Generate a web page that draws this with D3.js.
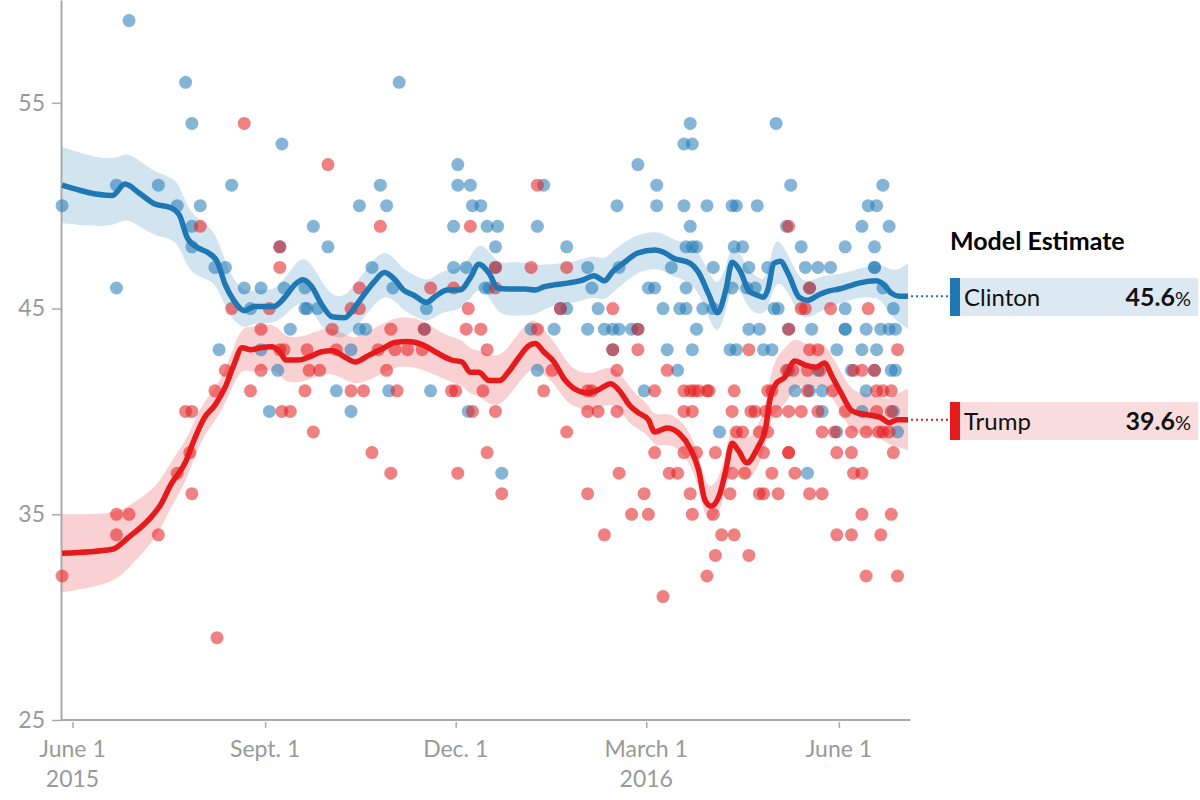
<!DOCTYPE html>
<html>
<head>
<meta charset="utf-8">
<script src="https://cdn.jsdelivr.net/npm/d3@7"></script>
<style>
  html, body { margin: 0; padding: 0; background: #fff; }
  svg { display: block; font-family: Lato, "Open Sans", sans-serif; }
</style>
</head>
<body>
<svg id="chart" width="1200" height="800"></svg>
<script>
// ---------------- DATA ----------------
const candidates = ["Clinton", "Trump"];
const yTickValues = [25, 35, 45, 55];
const xTickDates = ["2015-06-01", "2015-09-01", "2015-12-01", "2016-03-01", "2016-06-01"];
const xTickLabels = ["June 1", "Sept. 1", "Dec. 1", "March 1", "June 1"];
const yearLabels = [["2015-06-01", "2015"], ["2016-03-01", "2016"]];
const legendTitle = "Model Estimate";

// individual polls: [date, percent]
const clintonPolls = [
["2015-05-27",50],
["2015-06-22",46],["2015-06-22",51],["2015-06-28",59],
["2015-07-12",51],["2015-07-21",50],["2015-07-25",56],["2015-07-28",54],["2015-07-28",49],["2015-07-28",48],
["2015-08-01",50],["2015-08-08",47],["2015-08-10",43],["2015-08-13",47],["2015-08-16",51],["2015-08-22",46],["2015-08-25",45],["2015-08-30",46],["2015-08-30",43],
["2015-09-03",40],["2015-09-07",42],["2015-09-08",48],["2015-09-09",53],["2015-09-10",46],["2015-09-13",44],["2015-09-20",46],["2015-09-20",45],["2015-09-21",45],["2015-09-24",49],["2015-09-26",45],
["2015-10-01",48],["2015-10-05",41],["2015-10-12",43],["2015-10-12",40],["2015-10-16",44],["2015-10-16",50],["2015-10-19",44],["2015-10-22",47],["2015-10-26",51],["2015-10-29",50],["2015-10-30",41],
["2015-11-01",46],["2015-11-04",56],["2015-11-16",44],["2015-11-17",45],["2015-11-19",41],["2015-11-30",47],["2015-11-30",49],
["2015-12-02",52],["2015-12-02",51],["2015-12-06",47],["2015-12-07",40],["2015-12-08",51],["2015-12-09",50],["2015-12-13",50],["2015-12-15",46],["2015-12-16",49],["2015-12-17",46],["2015-12-20",48],["2015-12-20",47],["2015-12-21",49],["2015-12-23",37],
["2016-01-06",44],["2016-01-09",49],["2016-01-09",42],["2016-01-12",51],["2016-01-17",44],["2016-01-20",45],["2016-01-23",48],["2016-01-23",45],
["2016-02-02",47],["2016-02-02",44],["2016-02-04",46],["2016-02-07",45],["2016-02-10",44],["2016-02-14",44],["2016-02-14",43],["2016-02-16",50],["2016-02-17",47],["2016-02-17",44],["2016-02-23",44],["2016-02-26",52],["2016-02-26",44],["2016-02-29",41],
["2016-03-02",46],["2016-03-05",46],["2016-03-06",51],["2016-03-06",50],["2016-03-09",45],["2016-03-11",43],["2016-03-13",47],["2016-03-16",42],["2016-03-17",45],["2016-03-19",53],["2016-03-19",50],["2016-03-20",45],["2016-03-20",48],["2016-03-20",46],["2016-03-22",54],["2016-03-22",49],["2016-03-23",43],["2016-03-23",53],["2016-03-23",48],["2016-03-25",48],["2016-03-25",44],["2016-03-28",45],["2016-03-30",50],
["2016-04-02",47],["2016-04-02",45],["2016-04-05",39],["2016-04-10",43],["2016-04-11",50],["2016-04-11",46],["2016-04-12",48],["2016-04-13",43],["2016-04-13",50],["2016-04-16",48],["2016-04-18",46],["2016-04-19",44],["2016-04-19",47],["2016-04-22",46],["2016-04-23",50],["2016-04-24",44],["2016-04-26",43],["2016-04-28",47],["2016-04-30",43],
["2016-05-01",45],["2016-05-02",54],["2016-05-03",45],["2016-05-07",49],["2016-05-08",44],["2016-05-08",42],["2016-05-09",51],["2016-05-11",41],["2016-05-14",48],["2016-05-16",47],["2016-05-17",37],["2016-05-18",46],["2016-05-18",41],["2016-05-19",44],["2016-05-22",47],["2016-05-22",42],["2016-05-24",40],["2016-05-24",41],["2016-05-28",47],["2016-05-31",43],["2016-05-31",39],
["2016-06-04",48],["2016-06-04",45],["2016-06-04",44],["2016-06-04",44],["2016-06-07",42],["2016-06-12",49],["2016-06-12",43],["2016-06-12",40],["2016-06-14",44],["2016-06-14",41],["2016-06-15",50],["2016-06-18",48],["2016-06-18",47],["2016-06-18",47],["2016-06-18",42],["2016-06-19",50],["2016-06-19",43],["2016-06-21",44],["2016-06-22",51],["2016-06-22",46],["2016-06-25",49],["2016-06-25",44],["2016-06-26",42],["2016-06-27",45],["2016-06-27",40],["2016-06-28",44],["2016-06-28",42],["2016-06-29",39]
];

const trumpPolls = [
["2015-05-27",32],
["2015-06-22",35],["2015-06-22",34],["2015-06-28",35],
["2015-07-12",34],["2015-07-21",37],["2015-07-25",40],["2015-07-27",38],["2015-07-28",40],["2015-07-28",36],
["2015-08-01",49],["2015-08-08",41],["2015-08-09",29],["2015-08-13",42],["2015-08-16",45],["2015-08-22",54],["2015-08-25",41],["2015-08-30",44],["2015-08-30",42],
["2015-09-03",45],["2015-09-08",48],["2015-09-08",47],["2015-09-08",43],["2015-09-09",40],["2015-09-10",43],["2015-09-13",40],["2015-09-20",41],["2015-09-21",43],["2015-09-22",42],["2015-09-24",39],["2015-09-27",42],
["2015-10-01",52],["2015-10-03",44],["2015-10-05",43],["2015-10-12",45],["2015-10-12",41],["2015-10-16",46],["2015-10-16",45],["2015-10-18",41],["2015-10-22",38],["2015-10-25",43],["2015-10-26",49],["2015-10-29",42],["2015-10-31",37],["2015-10-31",44],
["2015-11-02",43],["2015-11-03",41],["2015-11-08",43],["2015-11-15",43],["2015-11-16",44],["2015-11-19",46],["2015-11-29",41],["2015-11-30",46],
["2015-12-01",41],["2015-12-02",37],["2015-12-06",44],["2015-12-07",45],["2015-12-08",49],["2015-12-09",40],["2015-12-13",44],["2015-12-14",41],["2015-12-16",43],["2015-12-16",38],["2015-12-20",47],["2015-12-20",46],["2015-12-20",40],["2015-12-23",36],
["2016-01-06",47],["2016-01-09",51],["2016-01-09",44],["2016-01-12",41],["2016-01-16",42],["2016-01-20",45],["2016-01-23",47],["2016-01-23",39],
["2016-02-02",41],["2016-02-02",40],["2016-02-02",36],["2016-02-04",41],["2016-02-07",40],["2016-02-10",34],["2016-02-14",45],["2016-02-14",43],["2016-02-16",40],["2016-02-16",42],["2016-02-17",37],["2016-02-23",35],["2016-02-26",44],["2016-02-26",43],["2016-02-29",36],
["2016-03-02",35],["2016-03-05",41],["2016-03-05",38],["2016-03-09",31],["2016-03-11",42],["2016-03-12",37],["2016-03-16",37],["2016-03-19",41],["2016-03-19",40],["2016-03-19",38],["2016-03-22",41],["2016-03-22",36],["2016-03-23",35],["2016-03-23",40],["2016-03-24",41],["2016-03-25",38],["2016-03-26",41],["2016-03-30",41],["2016-03-30",32],["2016-03-31",41],
["2016-04-02",35],["2016-04-03",38],["2016-04-03",33],["2016-04-06",34],["2016-04-10",36],["2016-04-11",37],["2016-04-11",40],["2016-04-12",34],["2016-04-12",41],["2016-04-13",39],["2016-04-16",39],["2016-04-17",37],["2016-04-19",43],["2016-04-19",33],["2016-04-20",40],["2016-04-22",40],["2016-04-24",39],["2016-04-24",36],["2016-04-26",38],["2016-04-26",36],["2016-04-27",40],["2016-04-28",41],["2016-04-28",39],["2016-04-30",41],["2016-04-30",37],
["2016-05-02",40],["2016-05-03",36],["2016-05-07",42],["2016-05-08",49],["2016-05-08",44],["2016-05-08",40],["2016-05-08",38],["2016-05-08",38],["2016-05-10",42],["2016-05-11",37],["2016-05-14",45],["2016-05-14",40],["2016-05-16",45],["2016-05-17",42],["2016-05-17",41],["2016-05-18",46],["2016-05-18",36],["2016-05-18",43],["2016-05-22",43],["2016-05-22",40],["2016-05-23",42],["2016-05-24",39],["2016-05-24",36],["2016-05-28",45],["2016-05-29",41],["2016-05-30",39],["2016-05-31",38],["2016-05-31",34],
["2016-06-04",40],["2016-06-07",38],["2016-06-07",39],["2016-06-07",34],["2016-06-08",42],["2016-06-08",37],["2016-06-12",42],["2016-06-12",37],["2016-06-12",35],["2016-06-14",39],["2016-06-14",32],["2016-06-15",45],["2016-06-18",42],["2016-06-19",41],["2016-06-19",40],["2016-06-20",39],["2016-06-21",34],["2016-06-22",41],["2016-06-22",39],["2016-06-25",39],["2016-06-26",41],["2016-06-26",40],["2016-06-26",35],["2016-06-27",38],["2016-06-29",43],["2016-06-29",32]
];

// model estimate: [date, estimate, half-width of band]
const clintonModel = [
["2015-05-27",51.0,1.85],["2015-06-20",50.5,1.6],["2015-06-26",51.05,1.6],["2015-07-03",50.6,1.6],["2015-07-10",50.1,1.55],
["2015-07-18",49.9,1.5],["2015-07-22",49.55,1.5],["2015-07-26",48.4,1.45],["2015-07-31",47.95,1.4],["2015-08-05",47.7,1.3],
["2015-08-09",47.3,1.2],["2015-08-13",46.15,1.1],["2015-08-17",45.4,1.0],["2015-08-22",44.9,0.9],["2015-08-27",45.1,0.8],
["2015-09-01",45.1,0.8],["2015-09-05",45.1,0.8],["2015-09-10",45.5,0.9],["2015-09-15",46.15,1.0],["2015-09-19",46.4,1.1],
["2015-09-23",46.1,1.1],["2015-09-28",45.2,1.1],["2015-10-03",44.6,1.0],["2015-10-09",44.55,1.0],["2015-10-14",45.1,1.1],
["2015-10-18",45.65,1.1],["2015-10-23",46.3,1.1],["2015-10-28",46.75,1.1],["2015-11-02",46.4,1.0],["2015-11-06",45.9,1.0],
["2015-11-11",45.65,1.0],["2015-11-17",45.3,1.0],["2015-11-22",45.65,1.0],["2015-11-27",45.9,1.0],["2015-12-03",45.9,1.0],
["2015-12-08",46.5,1.0],["2015-12-12",47.15,1.1],["2015-12-17",46.7,1.1],["2015-12-21",46.0,1.2],["2015-12-26",45.95,1.3],
["2016-01-03",45.95,1.3],["2016-01-08",45.9,1.2],["2016-01-12",46.05,1.1],["2016-01-17",46.15,1.0],["2016-01-24",46.25,1.0],
["2016-01-31",46.4,1.0],["2016-02-05",46.6,1.0],["2016-02-10",46.35,1.0],["2016-02-14",46.8,1.0],["2016-02-19",47.2,1.0],
["2016-02-26",47.7,0.9],["2016-03-05",47.85,0.9],["2016-03-09",47.75,0.9],["2016-03-14",47.45,0.9],["2016-03-22",47.2,0.9],
["2016-03-26",46.75,1.0],["2016-03-31",45.65,1.1],["2016-04-04",44.8,1.2],["2016-04-08",45.9,1.1],["2016-04-11",47.25,1.0],
["2016-04-15",46.8,0.9],["2016-04-19",45.85,0.9],["2016-04-23",45.65,0.9],["2016-04-26",45.55,0.8],["2016-04-28",45.9,0.9],
["2016-05-01",47.2,1.1],["2016-05-04",47.3,1.0],["2016-05-08",46.65,0.9],["2016-05-13",45.55,0.9],["2016-05-17",45.4,0.9],
["2016-05-22",45.65,0.85],["2016-05-27",45.85,0.8],["2016-06-01",45.95,0.7],["2016-06-06",46.1,0.7],["2016-06-11",46.25,0.7],
["2016-06-19",46.35,0.8],["2016-06-22",46.2,0.9],["2016-06-26",45.75,1.1],["2016-06-30",45.6,1.3],["2016-07-04",45.6,1.6]
];

const trumpModel = [
["2015-05-27",33.1,1.9],["2015-06-20",33.3,1.7],["2015-06-28",33.9,1.5],["2015-07-08",34.8,1.3],["2015-07-13",35.45,1.2],
["2015-07-18",36.45,1.1],["2015-07-25",37.55,1.0],["2015-07-29",38.6,0.9],["2015-08-03",39.7,0.8],["2015-08-08",40.3,0.8],
["2015-08-13",41.2,0.8],["2015-08-17",42.25,0.9],["2015-08-21",43.1,1.0],["2015-08-25",43.0,1.1],["2015-08-30",43.1,1.1],
["2015-09-04",43.15,1.1],["2015-09-08",42.9,1.1],["2015-09-11",42.5,1.1],["2015-09-17",42.5,1.1],["2015-09-22",42.65,1.1],
["2015-09-28",42.9,1.1],["2015-10-03",42.95,1.1],["2015-10-09",42.65,1.1],["2015-10-14",42.4,1.1],["2015-10-20",42.7,1.2],
["2015-10-27",43.05,1.2],["2015-11-02",43.35,1.2],["2015-11-08",43.4,1.2],["2015-11-15",43.25,1.2],["2015-11-22",42.85,1.1],
["2015-11-29",42.5,1.1],["2015-12-04",42.4,1.1],["2015-12-08",41.9,1.1],["2015-12-12",41.9,1.1],["2015-12-17",41.5,1.2],
["2015-12-22",41.5,1.2],["2015-12-26",41.9,1.2],["2015-12-31",42.6,1.2],["2016-01-05",43.2,1.2],["2016-01-08",43.3,1.2],
["2016-01-12",42.9,1.1],["2016-01-17",42.4,1.0],["2016-01-22",41.55,1.0],["2016-01-26",41.15,0.9],["2016-02-02",40.9,0.9],
["2016-02-07",41.05,0.9],["2016-02-13",41.35,0.9],["2016-02-18",40.9,0.9],["2016-02-22",40.3,0.9],["2016-02-26",39.95,0.8],
["2016-03-02",39.6,0.75],["2016-03-05",39.0,0.75],["2016-03-11",39.2,0.75],["2016-03-17",38.9,0.75],["2016-03-22",38.2,0.75],
["2016-03-26",37.15,0.8],["2016-03-29",35.7,0.85],["2016-04-01",35.4,0.85],["2016-04-05",35.95,0.85],["2016-04-08",37.15,0.9],
["2016-04-11",38.45,1.0],["2016-04-14",38.1,1.0],["2016-04-18",37.5,1.0],["2016-04-23",38.2,1.0],["2016-04-27",39.2,1.0],
["2016-04-29",40.55,1.1],["2016-05-02",41.35,1.3],["2016-05-06",41.65,1.4],["2016-05-11",42.45,1.2],["2016-05-16",42.25,1.0],
["2016-05-21",42.15,1.0],["2016-05-25",42.35,1.0],["2016-05-29",41.65,1.0],["2016-06-02",40.9,1.0],["2016-06-07",40.05,1.0],
["2016-06-11",39.9,1.0],["2016-06-17",39.8,1.0],["2016-06-21",39.7,1.0],["2016-06-25",39.45,1.1],["2016-06-29",39.6,1.3],
["2016-07-04",39.6,1.5]
];

const finalEstimates = [45.6, 39.6];

// ---------------- CHART ----------------
const parse = d3.timeParse("%Y-%m-%d");
const svg = d3.select("#chart");

const x = d3.scaleTime()
  .domain([new Date(2015, 4, 26, 12), new Date(2016, 6, 4)])
  .range([61, 908]);
const y = d3.scaleLinear().domain([25, 60]).range([720, 0]);

const colors = { Clinton: "#1f78b4", Trump: "#e41a1c" };
const boxColors = { Clinton: "#dce9f3", Trump: "#f9dcdd" };

const models = {
  Clinton: clintonModel.map(d => ({ date: parse(d[0]), v: d[1], hw: d[2] })),
  Trump: trumpModel.map(d => ({ date: parse(d[0]), v: d[1], hw: d[2] }))
};
const polls = {
  Clinton: clintonPolls.map(d => ({ date: parse(d[0]), v: d[1] })),
  Trump: trumpPolls.map(d => ({ date: parse(d[0]), v: d[1] }))
};

// bands
const area = d3.area()
  .x(d => x(d.date))
  .y0(d => y(d.v - d.hw))
  .y1(d => y(d.v + d.hw))
  .curve(d3.curveBasis);

const gBands = svg.append("g");
candidates.forEach(c => {
  gBands.append("path")
    .datum(models[c])
    .attr("d", area)
    .attr("fill", colors[c])
    .attr("fill-opacity", 0.2);
});

// axes
const gy = svg.append("g")
  .attr("transform", "translate(61,0)")
  .call(d3.axisLeft(y).tickValues(yTickValues).tickSize(9).tickPadding(7).tickSizeOuter(0));
gy.select(".domain").attr("stroke", "#aaa").attr("stroke-width", 2);
gy.selectAll(".tick line").attr("stroke", "#aaa").attr("stroke-width", 1.5);
gy.selectAll(".tick text").attr("fill", "#999").attr("font-size", 23).attr("font-family", "Lato, sans-serif");

const tickDates = xTickDates.map(parse);
const gx = svg.append("g")
  .attr("transform", "translate(0,720)")
  .call(d3.axisBottom(x).tickValues(tickDates).tickSize(8).tickFormat(""));
gx.select(".domain").attr("stroke", "#aaa").attr("stroke-width", 2)
  .attr("d", "M61,0H910");
gx.selectAll(".tick line").attr("stroke", "#aaa").attr("stroke-width", 1.5).attr("y1", 2);

svg.append("g").selectAll("text")
  .data(tickDates)
  .join("text")
  .attr("x", d => x(d))
  .attr("y", 757)
  .attr("text-anchor", "middle")
  .attr("fill", "#999")
  .attr("font-size", 23)
  .text((d, i) => xTickLabels[i]);

svg.append("g").selectAll("text")
  .data(yearLabels)
  .join("text")
  .attr("x", d => x(parse(d[0])))
  .attr("y", 787)
  .attr("text-anchor", "middle")
  .attr("fill", "#999")
  .attr("font-size", 23)
  .text(d => d[1]);

// poll points
candidates.forEach(c => {
  svg.append("g").selectAll("circle")
    .data(polls[c])
    .join("circle")
    .attr("cx", d => x(d.date))
    .attr("cy", d => y(d.v))
    .attr("r", 6.5)
    .attr("fill", colors[c])
    .attr("fill-opacity", 0.55);
});

// model lines
const line = d3.line()
  .x(d => x(d.date))
  .y(d => y(d.v))
  .curve(d3.curveMonotoneX);

candidates.forEach(c => {
  svg.append("path")
    .datum(models[c])
    .attr("d", line)
    .attr("fill", "none")
    .attr("stroke", colors[c])
    .attr("stroke-width", 5.5)
    .attr("stroke-linejoin", "round");
});

// legend
svg.append("text")
  .attr("x", 950).attr("y", 250)
  .attr("font-size", 25).attr("font-weight", 700)
  .attr("fill", "#000")
  .text(legendTitle);

const boxTops = { Clinton: 278, Trump: 402 };
candidates.forEach((c, i) => {
  const last = models[c][models[c].length - 1];
  const ly = y(finalEstimates[i]);
  svg.append("line")
    .attr("x1", x(last.date) + 3).attr("x2", 950)
    .attr("y1", ly).attr("y2", ly)
    .attr("stroke", colors[c]).attr("stroke-width", 2)
    .attr("stroke-dasharray", "2,3");
  const top = boxTops[c];
  svg.append("rect").attr("x", 950).attr("y", top).attr("width", 248).attr("height", 38)
    .attr("fill", boxColors[c]);
  svg.append("rect").attr("x", 950).attr("y", top).attr("width", 10).attr("height", 38)
    .attr("fill", colors[c]);
  svg.append("text").attr("x", 964).attr("y", top + 28)
    .attr("font-size", 24).attr("fill", "#111").text(c);
  const t = svg.append("text").attr("x", 1191).attr("y", top + 28)
    .attr("text-anchor", "end").attr("fill", "#111");
  t.append("tspan").attr("font-size", 25).attr("font-weight", 700).text(finalEstimates[i].toFixed(1));
  t.append("tspan").attr("font-size", 20).text("%");
});
</script>
</body>
</html>
